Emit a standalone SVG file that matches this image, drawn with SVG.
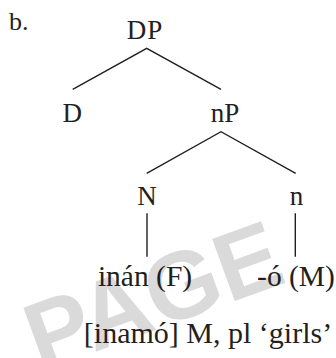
<svg xmlns="http://www.w3.org/2000/svg" width="336" height="358" viewBox="0 0 336 358">
<style>
.t{font-family:'Liberation Serif','Times New Roman',serif;font-size:27px;fill:#231f20;text-anchor:middle}
.leaf{font-size:29.5px}
.gl{font-size:30px}
.edge{stroke:#231f20;stroke-width:1.4;fill:none}
.wm{font-family:'Liberation Sans',Arial,sans-serif;font-weight:bold;font-size:96px;fill:#dadada}
</style>
<rect width="336" height="358" fill="#ffffff"/>
<text class="wm" transform="translate(40,372) rotate(-20)">PAGE</text>
<text class="t" x="9" y="30" style="text-anchor:start;font-size:26px">b.</text>
<g id="connectors">
<path class="edge" d="M72.7,89.3 L146.7,48.3 L221,89.3"/>
<path class="edge" d="M146.7,173.3 L221,131.7 L295.7,173.3"/>
<path class="edge" d="M147,213.3 V256.7"/>
<path class="edge" d="M295.3,213.3 V256.7"/>
</g>
<g id="DP"><text class="t" x="145" y="39" letter-spacing="1">DP</text></g>
<g id="D"><text class="t" x="72.3" y="121.7">D</text></g>
<g id="nP"><text class="t" x="225" y="121.7">nP</text></g>
<g id="N"><text class="t" x="147" y="205">N</text></g>
<g id="n"><text class="t" x="296.5" y="205">n</text></g>
<g id="inan"><text class="t leaf" x="145" y="286">inán (F)</text></g>
<g id="o"><text class="t leaf" x="296" y="286">-ó (M)</text></g>
<g id="gloss"><text class="t gl" x="208" y="343">[inamó] M, pl ‘girls’</text></g>
</svg>
